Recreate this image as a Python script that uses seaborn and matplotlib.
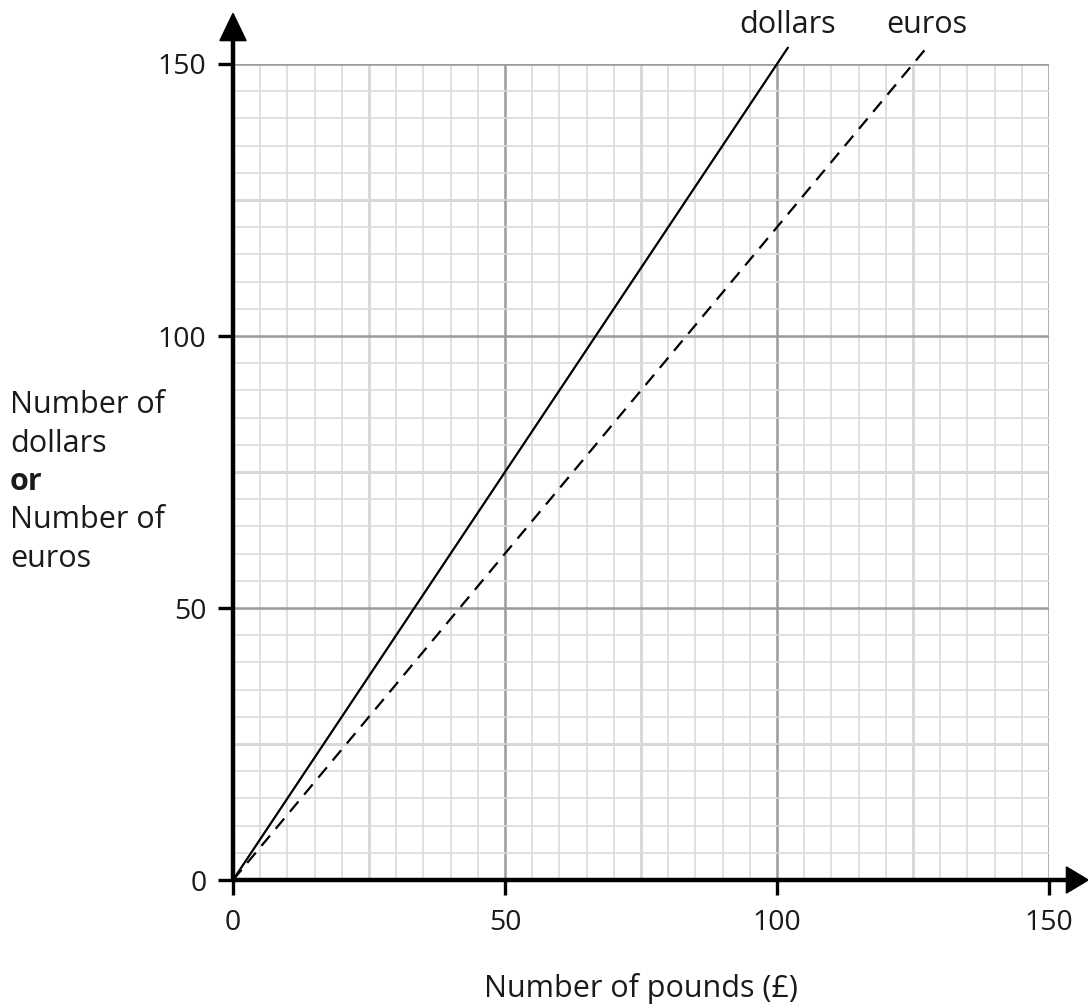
import matplotlib
matplotlib.use("Agg")
import matplotlib.pyplot as plt
import seaborn as sns
import pandas as pd
from matplotlib.ticker import MultipleLocator
from matplotlib.patches import Polygon

# Data
pounds_dollars = [0, 102]
dollars = [0, 153]
pounds_euros = [0, 127.5]
euros = [0, 153]
x_ticks = [0, 50, 100, 150]
y_ticks = [0, 50, 100, 150]

sns.set_style("ticks")
plt.rcParams['font.family'] = ['Open Sans', 'DejaVu Sans']
FS = 22
TFS = 20.5
TC = '#1a1a1a'

fig = plt.figure(figsize=(10.88, 10.05), dpi=100)
ax = fig.add_axes([233/1088, 1 - 880/1005, (1049-233)/1088, (880-64)/1005])
ax.set_xlim(0, 150)
ax.set_ylim(0, 150)

# grid
ax.xaxis.set_minor_locator(MultipleLocator(5))
ax.yaxis.set_minor_locator(MultipleLocator(5))
ax.set_xticks(x_ticks)
ax.set_yticks(y_ticks)
ax.grid(which='minor', color='#dadada', lw=1.2, zorder=0)
ax.grid(which='major', color='#9a9a9a', lw=1.8, zorder=1)
for v in [25, 75, 125]:
    ax.axvline(v, color='#d2d2d2', lw=2.0, zorder=0.5)
    ax.axhline(v, color='#d2d2d2', lw=2.0, zorder=0.5)
ax.set_axisbelow(True)

for s in ax.spines.values():
    s.set_visible(False)

df_d = pd.DataFrame({'pounds': pounds_dollars, 'value': dollars})
df_e = pd.DataFrame({'pounds': pounds_euros, 'value': euros})
sns.lineplot(data=df_d, x='pounds', y='value', ax=ax, color='black', lw=1.6,
             clip_on=False, zorder=5)
sns.lineplot(data=df_e, x='pounds', y='value', ax=ax, color='black', lw=1.6,
             linestyle=(0, (6, 4)), clip_on=False, zorder=5)

# axes lines with arrows
ax.plot([0, 0], [0, 154.5], color='black', lw=3.2, clip_on=False, zorder=6,
        solid_capstyle='butt')
ax.plot([0, 153.5], [0, 0], color='black', lw=3.2, clip_on=False, zorder=6,
        solid_capstyle='butt')
ax.add_patch(Polygon([[-2.4, 154.3], [2.4, 154.3], [0, 159.3]], closed=True,
                     color='black', clip_on=False, zorder=7))
ax.add_patch(Polygon([[153.2, -2.4], [153.2, 2.4], [157.2, 0]], closed=True,
                     color='black', clip_on=False, zorder=7))

ax.tick_params(which='minor', length=0, bottom=False, left=False)
ax.tick_params(which='major', direction='out', length=11, width=2.4,
               color='black', labelsize=TFS, labelcolor=TC,
               bottom=True, left=True, top=False, right=False)
ax.tick_params(axis='x', which='major', pad=10)
ax.tick_params(axis='y', which='major', pad=8)

ax.set_xlabel('Number of pounds (£)', fontsize=FS, color=TC, labelpad=26)
ax.set_ylabel('')

# series labels
ax.text(102, 155.7, 'dollars', fontsize=FS, ha='center', va='baseline', color=TC)
ax.text(127.6, 155.7, 'euros', fontsize=FS, ha='center', va='baseline', color=TC)

# y label (multi-line, mixed weight)
ylines = [('Number of', 'normal'), ('dollars', 'normal'), ('or', 'bold'),
          ('Number of', 'normal'), ('euros', 'normal')]
y0 = 413
for i, (t, w) in enumerate(ylines):
    fig.text(10/1088, 1 - (y0 + i*38.5)/1005, t, fontsize=FS, fontweight=w,
             ha='left', va='baseline', color=TC)

fig.savefig('out.png', dpi=100)
